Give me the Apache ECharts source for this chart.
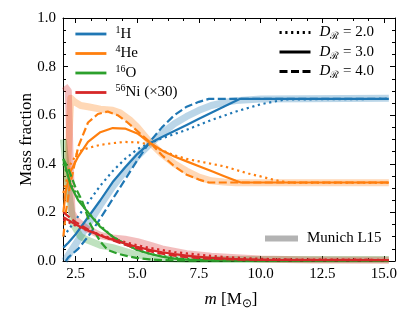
<!DOCTYPE html>
<html>
<head>
<meta charset="utf-8">
<script src="https://cdn.jsdelivr.net/npm/echarts@6/dist/echarts.min.js"></script>
<style>
  html, body { margin: 0; padding: 0; background: #fff; }
  #chart { width: 411px; height: 320px; }
</style>
</head>
<body>
<div id="chart"></div>
<script>
  // tick labels
  var xTicks = [2.5, 5.0, 7.5, 10.0, 12.5, 15.0]
  var yTicks = [0.0, 0.2, 0.4, 0.6, 0.8, 1.0]

  // 1H, [m, mass fraction]
  var hD2 = [[2.0,0.10],[2.4,0.155],[3.0,0.24],[3.5,0.31],[4.0,0.37],[4.5,0.42],[5.0,0.46],[5.5,0.485],[6.0,0.505],[7.0,0.54],[8.0,0.58],[9.0,0.615],[10.0,0.645],[11.0,0.665],[15.2,0.667]]
  var hD3 = [[2.0,0.055],[2.2,0.075],[2.5,0.11],[3.0,0.18],[3.5,0.25],[4.0,0.325],[4.5,0.385],[5.0,0.44],[5.5,0.485],[6.0,0.51],[6.5,0.535],[7.0,0.56],[7.5,0.585],[8.0,0.61],[8.5,0.635],[9.15,0.667],[15.2,0.667]]
  var hD4 = [[2.1,0.0],[2.2,0.015],[2.6,0.05],[3.0,0.10],[3.5,0.175],[4.0,0.255],[4.5,0.335],[5.0,0.415],[5.5,0.49],[6.0,0.55],[6.5,0.60],[7.0,0.635],[7.5,0.655],[7.9,0.667],[15.2,0.667]]
  var hL15 = [[2.05,0.0],[2.5,0.07],[3.0,0.15],[3.5,0.23],[4.0,0.305],[4.5,0.37],[5.0,0.43],[5.5,0.48],[6.0,0.525],[6.5,0.565],[7.0,0.595],[7.5,0.62],[8.0,0.64],[8.5,0.652],[9.0,0.66],[10.0,0.667],[15.2,0.67]]

  // 4He
  var heD2 = [[2.0,0.28],[2.3,0.40],[2.6,0.45],[3.0,0.465],[3.5,0.478],[4.0,0.485],[4.5,0.49],[5.0,0.488],[5.5,0.48],[6.0,0.455],[6.5,0.435],[7.0,0.42],[7.5,0.41],[8.0,0.40],[8.5,0.39],[9.0,0.375],[9.5,0.36],[10.0,0.348],[10.5,0.335],[11.0,0.325],[11.2,0.322],[15.2,0.322]]
  var heD3 = [[2.0,0.20],[2.1,0.29],[2.3,0.37],[2.6,0.43],[3.0,0.49],[3.5,0.53],[4.0,0.547],[4.5,0.545],[5.0,0.525],[5.5,0.487],[6.0,0.455],[6.5,0.43],[7.0,0.41],[7.5,0.39],[8.0,0.37],[8.5,0.35],[9.0,0.33],[9.2,0.323],[15.2,0.323]]
  var heD4 = [[2.0,0.10],[2.1,0.20],[2.25,0.30],[2.6,0.47],[3.0,0.57],[3.4,0.605],[3.8,0.615],[4.2,0.60],[4.6,0.57],[5.0,0.535],[5.5,0.49],[6.0,0.435],[6.5,0.39],[7.0,0.355],[7.5,0.335],[7.9,0.323],[15.2,0.323]]
  var heL15 = [[2.1,0.25],[2.2,0.45],[2.3,0.67],[2.45,0.655],[2.7,0.64],[3.0,0.635],[3.5,0.625],[4.0,0.62],[4.3,0.61],[4.7,0.58],[5.0,0.55],[5.5,0.49],[6.0,0.44],[6.5,0.40],[7.0,0.37],[7.5,0.345],[8.0,0.33],[8.5,0.325],[9.0,0.322],[15.2,0.322]]

  // 16O
  var oD2 = [[2.0,0.40],[2.3,0.32],[2.6,0.26],[3.0,0.20],[3.5,0.145],[4.0,0.10],[4.5,0.07],[5.0,0.045],[5.5,0.03],[6.0,0.02],[7.0,0.008],[8.0,0.004],[9.0,0.003],[11.2,0.002],[15.2,0.002]]
  var oD3 = [[2.0,0.42],[2.3,0.31],[2.6,0.25],[3.0,0.20],[3.5,0.14],[4.0,0.10],[4.5,0.07],[5.0,0.045],[5.5,0.03],[6.0,0.018],[6.5,0.01],[7.0,0.006],[8.0,0.003],[9.2,0.002],[15.2,0.002]]
  var oD4 = [[2.0,0.42],[2.2,0.38],[2.5,0.30],[2.75,0.25],[3.1,0.15],[3.5,0.08],[3.8,0.045],[4.2,0.03],[4.6,0.02],[5.0,0.012],[5.5,0.007],[6.0,0.004],[7.0,0.002],[7.9,0.001],[15.2,0.001]]
  var oL15 = [[2.0,0.50],[2.2,0.30],[2.4,0.15],[2.7,0.10],[3.0,0.085],[3.5,0.065],[4.0,0.055],[4.5,0.04],[5.0,0.025],[5.5,0.015],[6.0,0.01],[7.0,0.006],[15.2,0.006]]

  // 56Ni (x30)
  var niD2 = [[2.0,0.17],[2.5,0.145],[3.0,0.125],[3.5,0.108],[4.0,0.092],[4.5,0.078],[5.0,0.065],[5.5,0.054],[6.0,0.045],[6.5,0.037],[7.0,0.031],[7.5,0.026],[8.0,0.021],[8.5,0.017],[9.0,0.014],[10.0,0.009],[11.2,0.006],[15.2,0.005]]
  var niD3 = [[2.0,0.18],[2.5,0.15],[3.0,0.125],[3.5,0.105],[4.0,0.088],[4.5,0.072],[5.0,0.058],[5.5,0.046],[6.0,0.036],[6.5,0.028],[7.0,0.022],[7.5,0.017],[8.0,0.013],[9.0,0.008],[10.0,0.005],[15.2,0.004]]
  var niD4 = [[2.0,0.20],[2.5,0.16],[3.0,0.13],[3.5,0.105],[4.0,0.085],[4.5,0.067],[5.0,0.052],[5.5,0.04],[6.0,0.03],[6.5,0.022],[7.0,0.016],[7.5,0.012],[7.9,0.01],[9.0,0.006],[15.2,0.004]]
  var niL15 = [[2.05,0.72],[2.2,0.70],[2.28,0.40],[2.35,0.20],[2.5,0.17],[3.0,0.13],[3.5,0.105],[4.0,0.095],[4.5,0.09],[5.0,0.08],[5.5,0.065],[6.0,0.05],[7.0,0.03],[8.0,0.02],[9.0,0.013],[10.0,0.008],[12.0,0.004],[15.2,0.003]]

  var BLUE = '#1f77b4', ORANGE = '#ff7f0e', GREEN = '#2ca02c', RED = '#d62728'
  var DOT = [2.2, 3.6], DASH = [8, 3.5]
  var FONT = 'Liberation Serif'

  // minor ticks every 0.625 between the major ones
  var xMinor = []
  for (var i = 0; i < xTicks.length - 1; i++) {
    for (var k = 1; k < 4; k++) {
      xMinor.push(xTicks[i] + k * (xTicks[i + 1] - xTicks[i]) / 4)
    }
  }

  function line (name, data, color, type, width, opacity, z) {
    return {
      name: name,
      type: 'line',
      data: data,
      showSymbol: false,
      symbol: 'none',
      clip: true,
      z: z,
      color: color,
      lineStyle: { color: color, width: width, type: type, opacity: opacity, cap: 'butt', join: 'round' },
      emphasis: { disabled: true }
    }
  }

  var series = [
    line('bandH', hL15, BLUE, 'solid', 7, 0.3, 1),
    line('bandHe', heL15, ORANGE, 'solid', 7, 0.3, 1),
    line('bandO', oL15, GREEN, 'solid', 7, 0.3, 1),
    line('bandNi', niL15, RED, 'solid', 7, 0.3, 1),

    line('H2', hD2, BLUE, DOT, 2.2, 1, 3),
    line('H', hD3, BLUE, 'solid', 2.2, 1, 3),
    line('H4', hD4, BLUE, DASH, 2.2, 1, 3),
    line('He2', heD2, ORANGE, DOT, 2.2, 1, 3),
    line('He', heD3, ORANGE, 'solid', 2.2, 1, 3),
    line('He4', heD4, ORANGE, DASH, 2.2, 1, 3),
    line('O2', oD2, GREEN, DOT, 2.2, 1, 3),
    line('O', oD3, GREEN, 'solid', 2.2, 1, 3),
    line('O4', oD4, GREEN, DASH, 2.2, 1, 3),
    line('Ni2', niD2, RED, DOT, 2.2, 1, 3),
    line('Ni', niD3, RED, 'solid', 2.2, 1, 3),
    line('Ni4', niD4, RED, DASH, 2.2, 1, 3),

    // legend only
    line('D2', [], '#000', DOT, 3, 1, 3),
    line('D3', [], '#000', 'solid', 3, 1, 3),
    line('D4', [], '#000', DASH, 3, 1, 3),
    line('Munich', [], '#b3b3b3', 'solid', 7, 1, 3)
  ]

  var labels = {
    H: '{sup|1}{t|H}',
    He: '{sup|4}{t|He}',
    O: '{sup|16}{t|O}',
    Ni: '{sup|56}{t|Ni (×30)}',
    D2: '{i|D}{sub|ℛ}{t| = 2.0}',
    D3: '{i|D}{sub|ℛ}{t| = 3.0}',
    D4: '{i|D}{sub|ℛ}{t| = 4.0}',
    Munich: '{m|Munich L15}'
  }

  function richSet (size) {
    var s = Math.round(size * 0.68)
    return {
      t: { fontFamily: FONT, fontSize: size, lineHeight: size + 3, color: '#000' },
      m: { fontFamily: FONT, fontSize: size, lineHeight: size + 3, color: '#000', padding: [0, 0, 0, 4] },
      i: { fontFamily: FONT, fontStyle: 'italic', fontSize: size, lineHeight: size + 3, color: '#000', padding: [0, 0, 0, 4] },
      sup: { fontFamily: FONT, fontSize: s, lineHeight: s, verticalAlign: 'top', color: '#000', padding: [0, 0, 0, 4] },
      sub: { fontFamily: FONT, fontSize: s, lineHeight: s, verticalAlign: 'bottom', color: '#000' }
    }
  }

  function legend (names, left, top, lw, iw) {
    return {
      data: names,
      orient: 'vertical',
      left: left,
      top: top,
      itemWidth: iw,
      itemHeight: 1,
      itemGap: 3,
      padding: 0,
      selectedMode: false,
      lineStyle: { width: lw },
      itemStyle: { color: 'rgba(0,0,0,0)', borderColor: 'rgba(0,0,0,0)', borderWidth: 0, opacity: 0 },
      formatter: function (n) { return labels[n] },
      textStyle: { rich: richSet(15) }
    }
  }

  var axisLine = { show: true, lineStyle: { color: '#000', width: 1 } }
  var tickStyle = { color: '#000', width: 1 }
  var xMin = 1.985, xMax = 15.45

  function xAxis (pos, ticks, len, showLine, showLabel) {
    return {
      type: 'value',
      position: pos,
      min: xMin,
      max: xMax,
      axisLine: showLine ? axisLine : { show: false },
      axisTick: { show: true, inside: true, length: len, customValues: ticks, lineStyle: tickStyle },
      axisLabel: {
        show: showLabel,
        customValues: ticks,
        margin: 6,
        color: '#000',
        fontFamily: FONT,
        fontSize: 15,
        formatter: function (v) { return v.toFixed(1) }
      },
      splitLine: { show: false }
    }
  }

  var xMain = xAxis('bottom', xTicks, 5, true, true)
  xMain.name = '{i|m}{t| [M}{sub|⊙}{t|]}'
  xMain.nameLocation = 'middle'
  xMain.nameGap = 29
  xMain.nameMoveOverlap = false
  xMain.nameTextStyle = { rich: richSet(17) }

  function yAxis (pos, showLabel) {
    return {
      type: 'value',
      position: pos,
      min: yTicks[0],
      max: yTicks[yTicks.length - 1],
      interval: yTicks[1] - yTicks[0],
      axisLine: axisLine,
      axisTick: { show: true, inside: true, length: 5, lineStyle: tickStyle },
      minorTick: { show: true, splitNumber: 4, length: 3, lineStyle: tickStyle },
      axisLabel: {
        show: showLabel,
        margin: 7,
        color: '#000',
        fontFamily: FONT,
        fontSize: 15,
        formatter: function (v) { return v.toFixed(1) }
      },
      splitLine: { show: false }
    }
  }

  var yMain = yAxis('left', true)
  yMain.name = 'Mass fraction'
  yMain.nameLocation = 'middle'
  yMain.nameGap = 28
  yMain.nameMoveOverlap = false
  yMain.nameTextStyle = { fontFamily: FONT, fontSize: 17, color: '#000' }

  var chart = echarts.init(document.getElementById('chart'), null, { renderer: 'canvas' })
  chart.setOption({
    animation: false,
    backgroundColor: '#fff',
    grid: { left: 63, right: 16, top: 18, bottom: 59 },
    xAxis: [
      xMain,
      xAxis('bottom', xMinor, 3, false, false),
      xAxis('top', xTicks, 5, true, false),
      xAxis('top', xMinor, 3, false, false)
    ],
    yAxis: [yMain, yAxis('right', false)],
    legend: [
      legend(['H', 'He', 'O', 'Ni'], 74, 25, 2.8, 31),
      legend(['D2', 'D3', 'D4'], 278, 25, 3, 31),
      legend(['Munich'], 262, 231, 6, 33)
    ],
    tooltip: { show: false },
    series: series
  })
</script>
</body>
</html>
